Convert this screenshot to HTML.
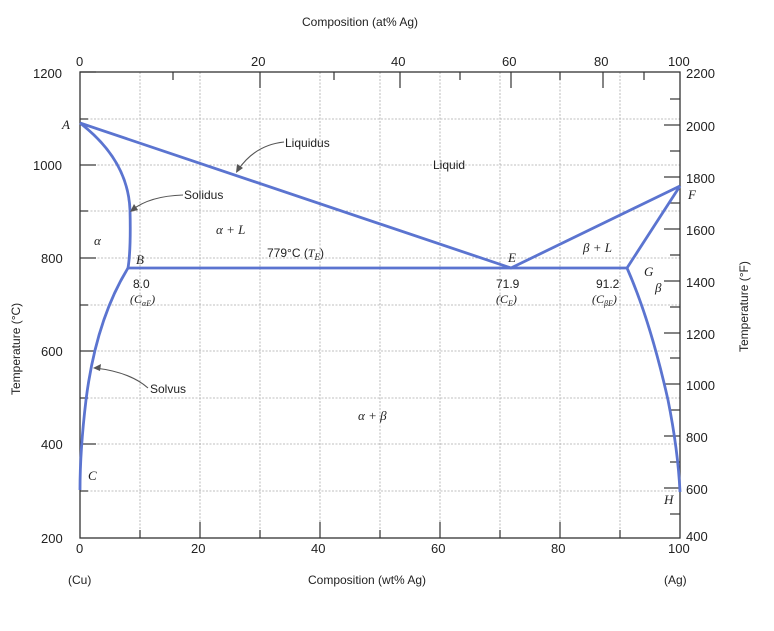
<!DOCTYPE html>
<html><head><meta charset="utf-8"><style>
body{margin:0;background:#fff;}
svg text{font-family:"Liberation Sans",sans-serif;fill:#222;}
.it{font-family:"Liberation Serif",serif;font-style:italic;}
</style></head><body>
<svg width="774" height="626" viewBox="0 0 774 626" xmlns="http://www.w3.org/2000/svg">
<g stroke="#aaa" stroke-width="0.8" stroke-dasharray="2,1.5">
<line x1="140" y1="72" x2="140" y2="538"/><line x1="200" y1="72" x2="200" y2="538"/>
<line x1="260" y1="72" x2="260" y2="538"/><line x1="320" y1="72" x2="320" y2="538"/>
<line x1="380" y1="72" x2="380" y2="538"/><line x1="440" y1="72" x2="440" y2="538"/>
<line x1="500" y1="72" x2="500" y2="538"/><line x1="560" y1="72" x2="560" y2="538"/>
<line x1="620" y1="72" x2="620" y2="538"/>
<line x1="80" y1="119" x2="680" y2="119"/><line x1="80" y1="165" x2="680" y2="165"/>
<line x1="80" y1="211" x2="680" y2="211"/><line x1="80" y1="258" x2="680" y2="258"/>
<line x1="80" y1="305" x2="680" y2="305"/><line x1="80" y1="351" x2="680" y2="351"/>
<line x1="80" y1="398" x2="680" y2="398"/><line x1="80" y1="444" x2="680" y2="444"/>
<line x1="80" y1="491" x2="680" y2="491"/>
</g>
<rect x="80" y="72" width="600" height="466" fill="none" stroke="#333" stroke-width="1.3"/>
<g stroke="#333" stroke-width="1.2">
<!-- left ticks -->
<line x1="80" y1="72" x2="96" y2="72"/><line x1="80" y1="165" x2="96" y2="165"/><line x1="80" y1="258" x2="96" y2="258"/><line x1="80" y1="351" x2="96" y2="351"/><line x1="80" y1="444" x2="96" y2="444"/>
<line x1="80" y1="119" x2="88" y2="119"/><line x1="80" y1="211" x2="88" y2="211"/><line x1="80" y1="305" x2="88" y2="305"/><line x1="80" y1="398" x2="88" y2="398"/><line x1="80" y1="491" x2="88" y2="491"/>
<!-- bottom ticks -->
<line x1="200" y1="538" x2="200" y2="522"/><line x1="320" y1="538" x2="320" y2="522"/><line x1="440" y1="538" x2="440" y2="522"/><line x1="560" y1="538" x2="560" y2="522"/>
<line x1="140" y1="538" x2="140" y2="530"/><line x1="260" y1="538" x2="260" y2="530"/><line x1="380" y1="538" x2="380" y2="530"/><line x1="500" y1="538" x2="500" y2="530"/><line x1="620" y1="538" x2="620" y2="530"/>
<!-- top ticks at% -->
<line x1="173" y1="72" x2="173" y2="80"/><line x1="260" y1="72" x2="260" y2="88"/><line x1="334" y1="72" x2="334" y2="80"/><line x1="400" y1="72" x2="400" y2="88"/><line x1="460" y1="72" x2="460" y2="80"/><line x1="511" y1="72" x2="511" y2="88"/><line x1="560" y1="72" x2="560" y2="80"/><line x1="603" y1="72" x2="603" y2="88"/><line x1="644" y1="72" x2="644" y2="80"/>
<!-- right ticks F -->
<line x1="664" y1="125" x2="680" y2="125"/><line x1="664" y1="177" x2="680" y2="177"/><line x1="664" y1="229" x2="680" y2="229"/><line x1="664" y1="281" x2="680" y2="281"/><line x1="664" y1="333" x2="680" y2="333"/><line x1="664" y1="384" x2="680" y2="384"/><line x1="664" y1="436" x2="680" y2="436"/><line x1="664" y1="488" x2="680" y2="488"/>
<line x1="670" y1="99" x2="680" y2="99"/><line x1="670" y1="151" x2="680" y2="151"/><line x1="670" y1="203" x2="680" y2="203"/><line x1="670" y1="255" x2="680" y2="255"/><line x1="670" y1="307" x2="680" y2="307"/><line x1="670" y1="358" x2="680" y2="358"/><line x1="670" y1="410" x2="680" y2="410"/><line x1="670" y1="462" x2="680" y2="462"/><line x1="670" y1="514" x2="680" y2="514"/>
</g>
<!-- phase lines -->
<g stroke="#5b74d0" stroke-width="2.8" fill="none" stroke-linejoin="round">
<path d="M80 123 L511 268 L680 186"/>
<path d="M80 123 Q128 160 130 210 Q131 250 128 268"/>
<path d="M128 268 L627 268 L680 186"/>
<path d="M128 268 Q96 320 86 400 Q80 450 80 490"/>
<path d="M627 268 Q650 320 668 400 Q678 450 680 492"/>
</g>
<!-- arrows -->
<g stroke="#555" stroke-width="1.1" fill="none">
<path d="M284 142 Q255 145 238 170"/><path d="M183 195 Q150 196 132 210"/><path d="M148 388 Q130 372 95 368"/>
</g>
<g fill="#555"><path d="M236 173 L237 164 L243 168Z"/><path d="M130 212 L134 204 L138 210Z"/><path d="M93 368 L101 364 L100 371Z"/></g>
<!-- text -->
<g font-size="13">
<text x="33" y="78">1200</text><text x="33" y="170">1000</text><text x="41" y="263">800</text><text x="41" y="356">600</text><text x="41" y="449">400</text><text x="41" y="543">200</text>
<text x="686" y="78">2200</text><text x="686" y="131">2000</text><text x="686" y="183">1800</text><text x="686" y="235">1600</text><text x="686" y="287">1400</text><text x="686" y="339">1200</text><text x="686" y="390">1000</text><text x="686" y="442">800</text><text x="686" y="494">600</text><text x="686" y="541">400</text>
<text x="76" y="553">0</text><text x="191" y="553">20</text><text x="311" y="553">40</text><text x="431" y="553">60</text><text x="551" y="553">80</text><text x="668" y="553">100</text>
<text x="76" y="66">0</text><text x="251" y="66">20</text><text x="391" y="66">40</text><text x="502" y="66">60</text><text x="594" y="66">80</text><text x="668" y="66">100</text>
</g>
<g font-size="12">
<text x="302" y="26">Composition (at% Ag)</text>
<text x="308" y="584">Composition (wt% Ag)</text>
<text x="68" y="584">(Cu)</text><text x="664" y="584">(Ag)</text>
<text transform="translate(20,395) rotate(-90)">Temperature (°C)</text>
<text transform="translate(748,352) rotate(-90)">Temperature (°F)</text>
<text x="285" y="147">Liquidus</text><text x="184" y="199">Solidus</text><text x="150" y="393">Solvus</text>
<text x="433" y="169" fill="#555">Liquid</text>
<text x="267" y="257">779°C (<tspan class="it">T<tspan font-size="9" dy="3">E</tspan></tspan><tspan dy="-3">)</tspan></text>
<text x="133" y="288">8.0</text><text x="496" y="288">71.9</text><text x="596" y="288">91.2</text>
<text x="130" y="303" class="it">(C<tspan font-size="8" dy="3">αE</tspan><tspan dy="-3">)</tspan></text>
<text x="496" y="303" class="it">(C<tspan font-size="8" dy="3">E</tspan><tspan dy="-3">)</tspan></text>
<text x="592" y="303" class="it">(C<tspan font-size="8" dy="3">βE</tspan><tspan dy="-3">)</tspan></text>
</g>
<g font-size="13" class="it">
<text x="62" y="129" class="it">A</text><text x="136" y="264" class="it">B</text><text x="88" y="480" class="it">C</text>
<text x="508" y="262" class="it">E</text><text x="688" y="199" class="it">F</text><text x="644" y="276" class="it">G</text><text x="664" y="504" class="it">H</text>
<text x="94" y="245" class="it">α</text><text x="216" y="234" class="it">α + L</text><text x="583" y="252" class="it">β + L</text>
<text x="655" y="292" class="it">β</text><text x="358" y="420" class="it">α + β</text>
</g>
</svg>
</body></html>
